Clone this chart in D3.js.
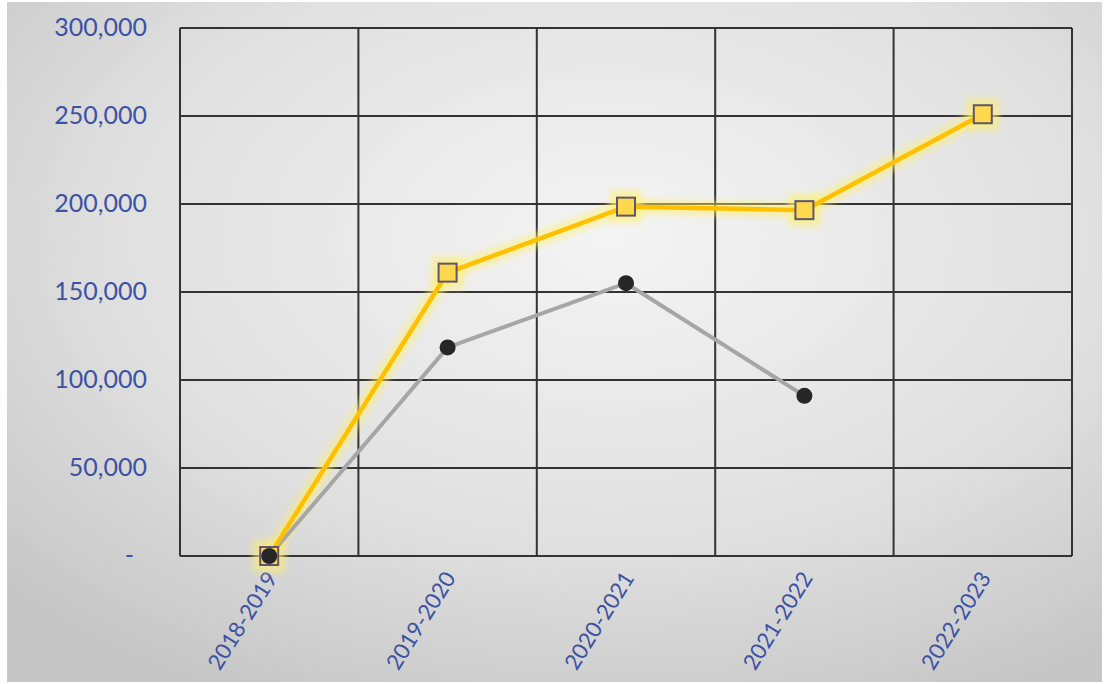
<!DOCTYPE html>
<html><head><meta charset="utf-8">
<script src="https://cdn.jsdelivr.net/npm/d3@7"></script>
<style>html,body{margin:0;padding:0;background:#fff;}svg{display:block;}</style>
</head><body>
<svg id="chart" width="1107" height="684"></svg>
<script>
const categories = ["2018-2019","2019-2020","2020-2021","2021-2022","2022-2023"];
const seriesYellow = [0, 161000, 198500, 196500, 251000];
const seriesGrey = [0, 118500, 155000, 91000, null];
const yTicks = [0, 50000, 100000, 150000, 200000, 250000, 300000];

const svg = d3.select("#chart");
const m = {left:180, right:1072, top:28, bottom:556};

const defs = svg.append("defs");
const rg = defs.append("radialGradient").attr("id","bg").attr("cx","55%").attr("cy","35%").attr("r","75%");
rg.append("stop").attr("offset","0%").attr("stop-color","#f4f4f4");
rg.append("stop").attr("offset","60%").attr("stop-color","#e0e0e0");
rg.append("stop").attr("offset","100%").attr("stop-color","#c6c6c6");
const glow = defs.append("filter").attr("id","glow").attr("x","-20%").attr("y","-20%").attr("width","140%").attr("height","140%");
glow.append("feGaussianBlur").attr("stdDeviation", 3);

svg.append("rect").attr("x",7).attr("y",2).attr("width",1095).attr("height",680).attr("fill","url(#bg)");

const x = d3.scaleBand().domain(categories).range([m.left, m.right]);
const y = d3.scaleLinear().domain([0, 300000]).range([m.bottom, m.top]);
const cx = d => x(d) + x.bandwidth()/2;

const g = svg.append("g");
g.selectAll(".hg").data(yTicks).enter().append("line")
  .attr("x1", m.left).attr("x2", m.right)
  .attr("y1", d=>y(d)).attr("y2", d=>y(d))
  .attr("stroke","#333").attr("stroke-width",2);
const vEdges = categories.map(c=>x(c)).concat([m.right]);
g.selectAll(".vg").data(vEdges).enter().append("line")
  .attr("x1", d=>d).attr("x2", d=>d)
  .attr("y1", m.top).attr("y2", m.bottom)
  .attr("stroke","#333").attr("stroke-width",2);

const fmt = d3.format(",");
svg.selectAll(".yl").data(yTicks).enter().append("text")
  .attr("x", d => d===0 ? 134 : 147)
  .attr("y", d => y(d) + 8)
  .attr("text-anchor","end")
  .attr("font-family","Lato, 'Open Sans', sans-serif")
  .attr("font-size", 25)
  .attr("fill","#3c52a3")
  .text(d => d===0 ? "-" : fmt(d));

svg.selectAll(".xl").data(categories).enter().append("text")
  .attr("transform", d => `translate(${cx(d)+9},${m.bottom+22}) rotate(-58)`)
  .attr("text-anchor","end")
  .attr("font-family","Lato, 'Open Sans', sans-serif")
  .attr("font-size", 22)
  .attr("fill","#3c52a3")
  .text(d=>d);

const lineGen = d3.line().defined(d=>d.v!==null).x(d=>cx(d.c)).y(d=>y(d.v));
const yData = categories.map((c,i)=>({c, v: seriesYellow[i]}));
const gData = categories.map((c,i)=>({c, v: seriesGrey[i]}));

svg.append("path").datum(yData).attr("d", lineGen).attr("fill","none")
  .attr("stroke","#fff06a").attr("stroke-width",14).attr("opacity",0.55).attr("filter","url(#glow)");
svg.selectAll(".ym-glow").data(yData).enter().append("rect")
  .attr("x", d=>cx(d.c)-16).attr("y", d=>y(d.v)-16).attr("width",32).attr("height",32)
  .attr("fill","#fff06a").attr("opacity",0.6).attr("filter","url(#glow)");

svg.append("path").datum(gData).attr("d", lineGen).attr("fill","none")
  .attr("stroke","#a6a6a6").attr("stroke-width",4);

svg.append("path").datum(yData).attr("d", lineGen).attr("fill","none")
  .attr("stroke","#ffc000").attr("stroke-width",4.5);

svg.selectAll(".ym").data(yData).enter().append("rect")
  .attr("x", d=>cx(d.c)-9).attr("y", d=>y(d.v)-9).attr("width",18).attr("height",18)
  .attr("fill","#ffd84d").attr("stroke","#5e5670").attr("stroke-width",2);

svg.selectAll(".gm").data(gData.filter(d=>d.v!==null)).enter().append("circle")
  .attr("cx", d=>cx(d.c)).attr("cy", d=>y(d.v)).attr("r",8)
  .attr("fill","#262626");
</script>
</body></html>
